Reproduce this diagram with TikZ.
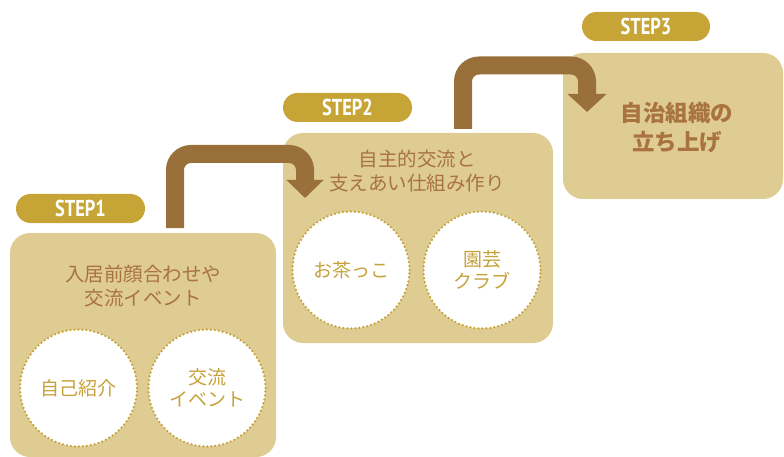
\documentclass[tikz,border=0pt]{standalone}
\usepackage{fontspec}
\usetikzlibrary{arrows.meta}
\newfontfamily\jp{Noto Sans CJK JP}
\newfontfamily\stepfont[FakeStretch=0.8]{PT Sans Bold}
\definecolor{boxfill}{HTML}{DFCC93}
\definecolor{pillfill}{HTML}{C6A536}
\definecolor{arrowcol}{HTML}{99703A}
\definecolor{titlecol}{HTML}{A8733F}
\definecolor{circcol}{HTML}{C5A23A}
\tikzset{
  stepbox/.style={fill=boxfill, rounded corners=20pt, inner sep=0pt},
  pill/.style={fill=pillfill, rounded corners=14.5pt, minimum height=29pt, minimum width=129pt, inner sep=0pt, text=white, font=\stepfont\fontsize{23}{23}\selectfont},
  title/.style={text=titlecol, align=center, font=\jp\fontsize{19.5}{24}\selectfont},
  bigtitle/.style={text=titlecol, align=center, font=\jp\bfseries\fontsize{22.5}{28.5}\selectfont},
  circ/.style={circle, fill=white, draw=circcol, line width=2.5pt, dash pattern=on 0pt off 4pt, line cap=round, minimum size=117pt, inner sep=0pt, text=circcol, align=center, font=\jp\fontsize{19}{22.5}\selectfont},
  flow/.style={draw=arrowcol, line width=18pt, rounded corners=16pt},
}
\begin{document}
\begin{tikzpicture}[x=1pt,y=-1pt]
\useasboundingbox (0,0) rectangle (784,457);
% boxes
\node[stepbox, minimum width=266pt, minimum height=224pt] (box1) at (143,345) {};
\node[stepbox, minimum width=270pt, minimum height=210pt] (box2) at (418,238) {};
\node[stepbox, minimum width=220pt, minimum height=146pt] (box3) at (673,126) {};
% pills
\node[pill] (p1) at (80.5,208.5) {STEP1};
\node[pill] (p2) at (347.5,107.5) {STEP2};
\node[pill, minimum width=128pt] (p3) at (646,26.5) {STEP3};
% titles
\node[title] (t1) at (143,286.5) {入居前顔合わせや\\交流イベント};
\node[title] (t2) at (417,171.5) {自主的交流と\\支えあい仕組み作り};
\node[bigtitle] (t3) at (677,127.5) {自治組織の\\立ち上げ};
% circles
\node[circ] (c1) at (78.5,388) {自己紹介};
\node[circ] (c2) at (207,388) {交流\\イベント};
\node[circ] (c3) at (351,270) {お茶っこ};
\node[circ] (c4) at (482,270) {園芸\\クラブ};
% arrows
\coordinate (a1s) at (175,228);
\coordinate (a1a) at (175,154);
\coordinate (a1b) at (305,154);
\coordinate (a1e) at (305,198);
\coordinate (a2s) at (463,129);
\coordinate (a2a) at (463,65.5);
\coordinate (a2b) at (587,65.5);
\coordinate (a2e) at (587,112);
\draw[flow, -{Triangle[width=36pt,length=18pt]}] (a1s) -- (a1a) -- (a1b) -- (a1e);
\draw[flow, -{Triangle[width=38pt,length=18pt]}] (a2s) -- (a2a) -- (a2b) -- (a2e);
\end{tikzpicture}
\end{document}
